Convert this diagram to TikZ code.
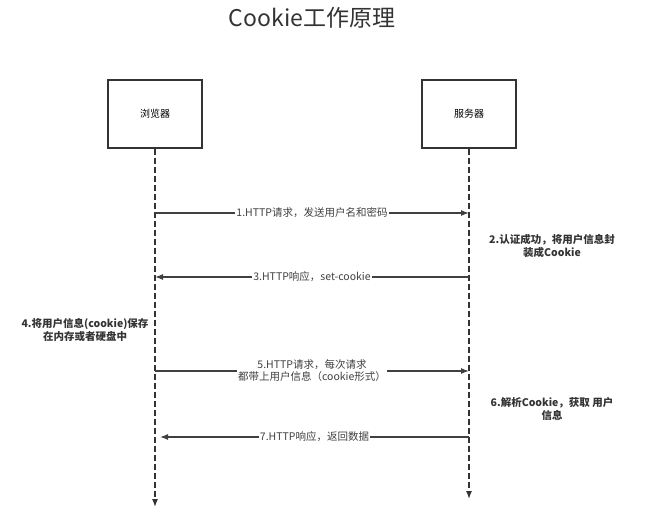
\documentclass[tikz,border=0pt]{standalone}
\usepackage{fontspec}
\setmainfont{Noto Sans CJK SC}
\usetikzlibrary{positioning,calc,arrows.meta}
\tikzset{
  actor/.style={draw=black!80,line width=1.2pt,fill=white,minimum width=94pt,minimum height=68pt,font=\fontsize{10}{11}\selectfont},
  life/.style={dash pattern=on 6pt off 3pt,line width=1.3pt,black!80,-{Latex[length=8pt,width=6pt]}},
  msg/.style={line width=1.2pt,black!75,-{Latex[length=8pt,width=6pt]}},
  lbl/.style={fill=white,inner sep=1pt,font=\fontsize{10.5}{12}\selectfont,text=black!75,align=center},
  note/.style={font=\bfseries\fontsize{10.5}{13}\selectfont,text=black!80,align=center}
}
\begin{document}
\begin{tikzpicture}[x=1pt,y=-1pt]
    \useasboundingbox (0,0) rectangle (650,525);
    \node[font=\fontsize{23}{25}\selectfont,text=black!80] (title) at (312,18) {Cookie工作原理};
    \node[actor] (browser) at (155,114) {浏览器};
    \node[actor] (server) at (469,114) {服务器};
    \coordinate (bend) at (155,507);
    \coordinate (send) at (469,499);
    \draw[life] (browser) -- (bend);
    \draw[life] (server) -- (send);
    % messages
    \draw[msg] (155,213) -- node[lbl] (m1) {1.HTTP请求，发送用户名和密码} (469,213);
    \node[note] (n2) at (552,246) {2.认证成功，将用户信息封\\装成Cookie};
    \draw[msg] (469,277) -- node[lbl] (m3) {3.HTTP响应，set-cookie} (155,277);
    \node[note] (n4) at (85,330) {4.将用户信息(cookie)保存\\在内存或者硬盘中};
    \draw[msg] (155,371) -- node[lbl] (m5) {5.HTTP请求，每次请求\\都带上用户信息（cookie形式）} (469,371);
    \node[note] (n6) at (552,409) {6.解析Cookie，获取 用户\\信息};
    \draw[msg] (469,437) -- node[lbl] (m7) {7.HTTP响应，返回数据} (160,437);
\end{tikzpicture}
\end{document}
